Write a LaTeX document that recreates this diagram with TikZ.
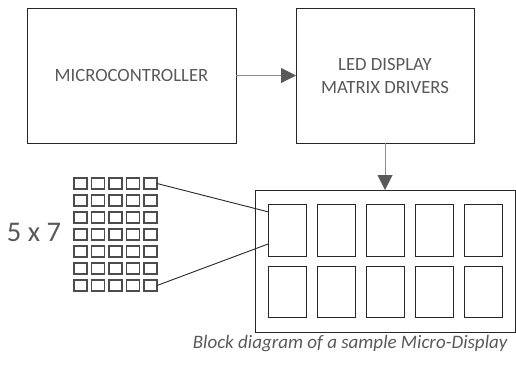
\documentclass[tikz,border=0pt]{standalone}
\usepackage{fontspec}
\setmainfont{Carlito}
\usetikzlibrary{arrows.meta,calc}
\definecolor{txtgray}{HTML}{595959}
\definecolor{wiregray}{HTML}{8C8C8C}
\definecolor{tipgray}{HTML}{595959}
\definecolor{edgedark}{HTML}{262626}
\tikzset{
  block/.style={draw=edgedark, line width=1pt, inner sep=0pt, outer sep=0pt, text=txtgray, font=\fontsize{18.7}{23}\selectfont, align=center},
  frame/.style={draw=edgedark, line width=1pt, inner sep=0pt, outer sep=0pt},
  digit/.style={draw=edgedark, line width=1pt, minimum width=38pt, minimum height=52pt, inner sep=0pt, outer sep=0pt},
  dot/.style={draw=black!70, line width=1.1pt, minimum width=13pt, minimum height=11pt, inner sep=0pt, outer sep=0pt},
  flow/.style={draw=wiregray, line width=1pt, -{Triangle[length=15pt,width=15pt,fill=tipgray,color=tipgray]}},
  zoomline/.style={draw=black!85, line width=0.9pt},
}
\begin{document}
\begin{tikzpicture}[x=1pt,y=-1pt]
\useasboundingbox (0,0) rectangle (516,370);

% top blocks
\node[block, minimum width=209pt, minimum height=135pt] (mcu) at (131.5,75.5) {MICROCONTROLLER};
\node[block, minimum width=178pt, minimum height=135pt] (drv) at (385,75.5) {LED DISPLAY\\MATRIX DRIVERS};

% display panel with 2 x 5 character cells
\node[frame, minimum width=260pt, minimum height=142pt] (panel) at (385,261) {};
\foreach \c in {1,...,5}{
  \node[digit] (d1\c) at ({287+49*(\c-1)},230) {};
  \node[digit, minimum height=51pt] (d2\c) at ({287+49*(\c-1)},291.5) {};
}

% 5 x 7 dot matrix
\foreach \i in {1,...,5}{
  \foreach \j in {1,...,7}{
    \node[dot] (g\i\j) at ({80.5+17.5*(\i-1)},{183.5+17*(\j-1)}) {};
  }
}
\node[text=txtgray, font=\fontsize{28.5}{32}\selectfont] (dim) at (34,232) {5 x 7};

% connectors
\draw[flow] (mcu.east) -- (drv.west);
\draw[flow] (drv.south) -- (panel.north);
\draw[zoomline] (g51.east) -- ($(d11.north west)!0.15!(d11.south west)$);
\draw[zoomline] (g57.east) -- ($(d11.north west)!0.77!(d11.south west)$);

% caption
\node[anchor=east, text=txtgray, font=\fontsize{19}{22}\selectfont\itshape] (cap) at (511,344) {Block diagram of a sample Micro-Display};
\end{tikzpicture}
\end{document}
